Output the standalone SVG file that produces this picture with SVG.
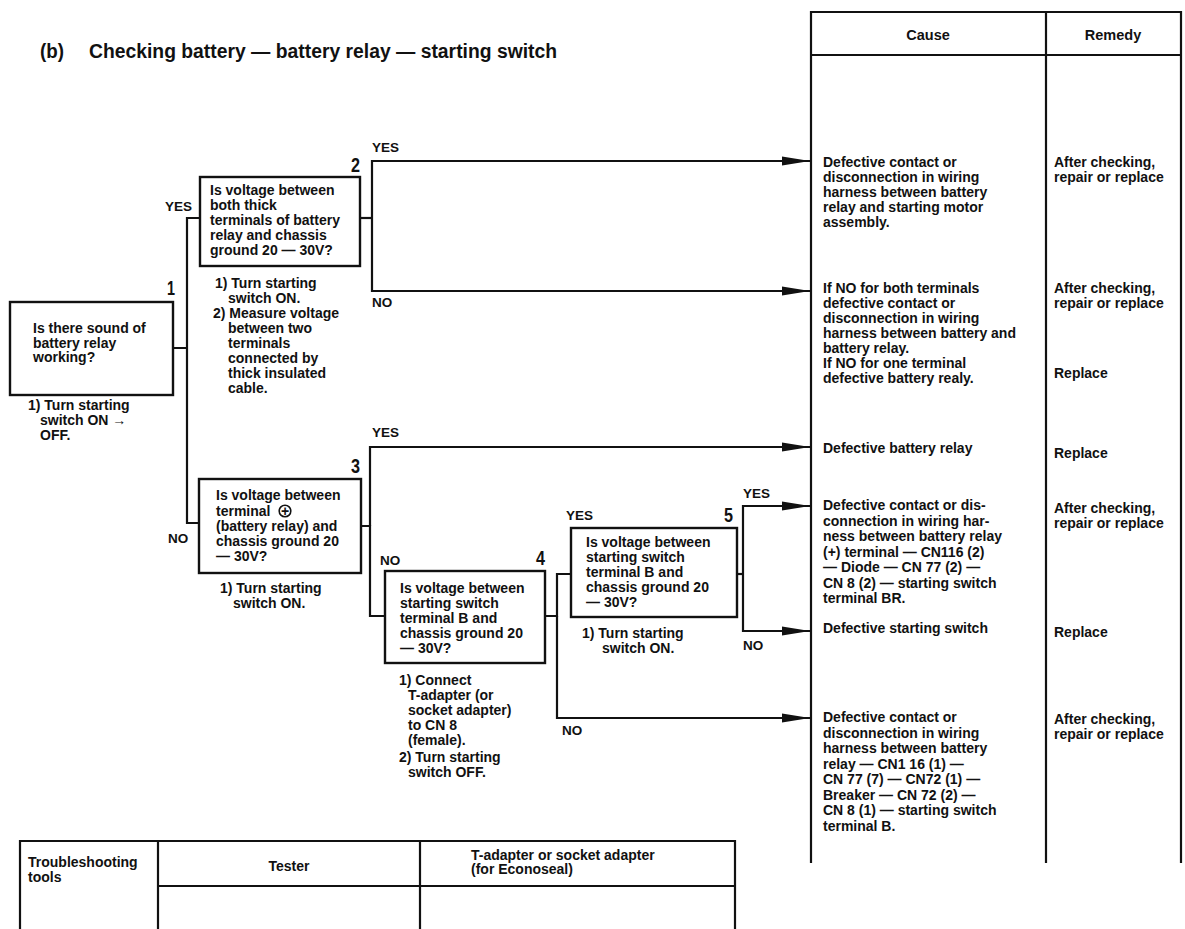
<svg xmlns="http://www.w3.org/2000/svg" width="1185" height="929" viewBox="0 0 1185 929">
<style>
text{font-family:"Liberation Sans",Arial,sans-serif;font-weight:bold;fill:#111}
.t{font-size:14px}
.lb{font-size:13.5px}
.num{font-size:20px}
.hd{font-size:14.5px;text-anchor:middle}
.tt{font-size:14px}
.box{fill:#fff;stroke:#111;stroke-width:2.4}
.ln{fill:none;stroke:#111;stroke-width:2.2;stroke-linejoin:miter}
.ar{fill:none;stroke:#111;stroke-width:2.2;marker-end:url(#ah)}
.tb{fill:none;stroke:#111;stroke-width:2.2}
</style>
<defs>
<marker id="ah" markerUnits="userSpaceOnUse" viewBox="0 0 28 10" refX="28" refY="5" markerWidth="28" markerHeight="10" orient="auto">
<path d="M0,0.5 L28,5 L0,9.5 Z" fill="#111"/>
</marker>
</defs>
<rect width="1185" height="929" fill="#fff"/>

<g id="title">
<text x="40" y="58" font-size="19.5" textLength="24" lengthAdjust="spacingAndGlyphs">(b)</text>
<text x="89" y="58" font-size="19.5" textLength="468" lengthAdjust="spacingAndGlyphs">Checking battery — battery relay — starting switch</text>
</g>

<g id="cause-table">
<path class="tb" d="M811,863 V12 H1181 V863 M1046,12 V863 M811,55 H1181"/>
<text class="hd" x="928" y="40">Cause</text>
<text class="hd" x="1113" y="40">Remedy</text>
</g>

<g id="node1">
<rect class="box" x="10" y="302" width="163" height="93"/>
<text class="num" x="167" y="295" textLength="8" lengthAdjust="spacingAndGlyphs">1</text>
<text class="t" x="33" y="333">Is there sound of</text>
<text class="t" x="33" y="348">battery relay</text>
<text class="t" x="33" y="362">working?</text>
<text class="t" x="28" y="410">1) Turn starting</text>
<text class="t" x="40" y="425">switch ON →</text>
<text class="t" x="40" y="440">OFF.</text>
</g>

<g id="node2">
<rect class="box" x="200" y="177" width="160" height="89"/>
<text class="num" x="351" y="172" textLength="9" lengthAdjust="spacingAndGlyphs">2</text>
<text class="t" x="210" y="195">Is voltage between</text>
<text class="t" x="210" y="210">both thick</text>
<text class="t" x="210" y="225">terminals of battery</text>
<text class="t" x="210" y="240">relay and chassis</text>
<text class="t" x="210" y="255">ground 20 — 30V?</text>
<text class="t" x="215" y="288">1) Turn starting</text>
<text class="t" x="228" y="303">switch ON.</text>
<text class="t" x="213" y="318">2) Measure voltage</text>
<text class="t" x="228" y="333">between two</text>
<text class="t" x="228" y="348">terminals</text>
<text class="t" x="228" y="363">connected by</text>
<text class="t" x="228" y="378">thick insulated</text>
<text class="t" x="228" y="393">cable.</text>
</g>

<g id="node3">
<rect class="box" x="199" y="479" width="162" height="94"/>
<text class="num" x="351" y="473" textLength="9" lengthAdjust="spacingAndGlyphs">3</text>
<text class="t" x="216" y="500">Is voltage between</text>
<text class="t" x="216" y="515.5">terminal</text>
<circle cx="285" cy="511" r="5.8" fill="none" stroke="#111" stroke-width="1.6"/>
<text class="t" x="285" y="515.5" text-anchor="middle" font-size="12">+</text>
<text class="t" x="216" y="531">(battery relay) and</text>
<text class="t" x="216" y="546">chassis ground 20</text>
<text class="t" x="216" y="561">— 30V?</text>
<text class="t" x="220" y="593">1) Turn starting</text>
<text class="t" x="233" y="608">switch ON.</text>
</g>

<g id="node4">
<rect class="box" x="385" y="571" width="160" height="92"/>
<text class="num" x="536" y="565" textLength="9" lengthAdjust="spacingAndGlyphs">4</text>
<text class="t" x="400" y="593">Is voltage between</text>
<text class="t" x="400" y="608">starting switch</text>
<text class="t" x="400" y="623">terminal B and</text>
<text class="t" x="400" y="638">chassis ground 20</text>
<text class="t" x="400" y="653">— 30V?</text>
<text class="t" x="399" y="685">1) Connect</text>
<text class="t" x="408" y="700">T-adapter (or</text>
<text class="t" x="408" y="715">socket adapter)</text>
<text class="t" x="408" y="730">to CN 8</text>
<text class="t" x="408" y="745">(female).</text>
<text class="t" x="399" y="762">2) Turn starting</text>
<text class="t" x="408" y="777">switch OFF.</text>
</g>

<g id="node5">
<rect class="box" x="571" y="528" width="166" height="89"/>
<text class="num" x="724" y="522" textLength="9" lengthAdjust="spacingAndGlyphs">5</text>
<text class="t" x="586" y="547">Is voltage between</text>
<text class="t" x="586" y="562">starting switch</text>
<text class="t" x="586" y="577">terminal B and</text>
<text class="t" x="586" y="592">chassis ground 20</text>
<text class="t" x="586" y="607">— 30V?</text>
<text class="t" x="582" y="638">1) Turn starting</text>
<text class="t" x="602" y="653">switch ON.</text>
</g>

<g id="connectors">
<path class="ln" d="M173,348 H187 M200,218 H187 V523 H199"/>
<path class="ln" d="M360,218 H372"/>
<path class="ar" d="M372,218 V161 H810"/>
<path class="ar" d="M372,218 V291 H810"/>
<path class="ln" d="M361,526 H370 V616 H385"/>
<path class="ar" d="M370,526 V447 H810"/>
<path class="ln" d="M545,616 H557 V574 H571"/>
<path class="ar" d="M557,616 V718 H810"/>
<path class="ln" d="M737,574 H743"/>
<path class="ar" d="M743,574 V506 H810"/>
<path class="ar" d="M743,574 V631 H810"/>
</g>

<g id="labels">
<text class="lb" x="165" y="211">YES</text>
<text class="lb" x="372" y="152">YES</text>
<text class="lb" x="372" y="307">NO</text>
<text class="lb" x="372" y="437">YES</text>
<text class="lb" x="168" y="543">NO</text>
<text class="lb" x="380" y="565">NO</text>
<text class="lb" x="566" y="520">YES</text>
<text class="lb" x="743" y="498">YES</text>
<text class="lb" x="743" y="650">NO</text>
<text class="lb" x="562" y="735">NO</text>
</g>

<g id="cause1">
<text class="t" x="823" y="167">Defective contact or</text>
<text class="t" x="823" y="182">disconnection in wiring</text>
<text class="t" x="823" y="197">harness between battery</text>
<text class="t" x="823" y="212">relay and starting motor</text>
<text class="t" x="823" y="227">assembly.</text>
<text class="t" x="1054" y="167">After checking,</text>
<text class="t" x="1054" y="182">repair or replace</text>
</g>

<g id="cause2">
<text class="t" x="823" y="293">If NO for both terminals</text>
<text class="t" x="823" y="308">defective contact or</text>
<text class="t" x="823" y="323">disconnection in wiring</text>
<text class="t" x="823" y="338">harness between battery and</text>
<text class="t" x="823" y="353">battery relay.</text>
<text class="t" x="823" y="368">If NO for one terminal</text>
<text class="t" x="823" y="383">defective battery realy.</text>
<text class="t" x="1054" y="293">After checking,</text>
<text class="t" x="1054" y="308">repair or replace</text>
<text class="t" x="1054" y="378">Replace</text>
</g>

<g id="cause3">
<text class="t" x="823" y="453">Defective battery relay</text>
<text class="t" x="1054" y="458">Replace</text>
</g>

<g id="cause4">
<text class="t" x="823" y="510">Defective contact or dis-</text>
<text class="t" x="823" y="525.5">connection in wiring har-</text>
<text class="t" x="823" y="541">ness between battery relay</text>
<text class="t" x="823" y="556.5">(+) terminal — CN116 (2)</text>
<text class="t" x="823" y="572">— Diode — CN 77 (2) —</text>
<text class="t" x="823" y="587.5">CN 8 (2) — starting switch</text>
<text class="t" x="823" y="603">terminal BR.</text>
<text class="t" x="1054" y="513">After checking,</text>
<text class="t" x="1054" y="528">repair or replace</text>
</g>

<g id="cause5">
<text class="t" x="823" y="633">Defective starting switch</text>
<text class="t" x="1054" y="637">Replace</text>
</g>

<g id="cause6">
<text class="t" x="823" y="722">Defective contact or</text>
<text class="t" x="823" y="737.5">disconnection in wiring</text>
<text class="t" x="823" y="753">harness between battery</text>
<text class="t" x="823" y="768.5">relay — CN1 16 (1) —</text>
<text class="t" x="823" y="784">CN 77 (7) — CN72 (1) —</text>
<text class="t" x="823" y="799.5">Breaker — CN 72 (2) —</text>
<text class="t" x="823" y="815">CN 8 (1) — starting switch</text>
<text class="t" x="823" y="830.5">terminal B.</text>
<text class="t" x="1054" y="724">After checking,</text>
<text class="t" x="1054" y="739">repair or replace</text>
</g>

<g id="tools-table">
<path class="tb" d="M20,929 V841 H735 V929 M158,841 V929 M420,841 V929 M158,886 H735"/>
<text class="tt" x="28" y="867">Troubleshooting</text>
<text class="tt" x="28" y="882">tools</text>
<text class="tt" x="289" y="871" text-anchor="middle">Tester</text>
<text class="tt" x="471" y="860">T-adapter or socket adapter</text>
<text class="tt" x="471" y="874">(for Econoseal)</text>
</g>
</svg>
